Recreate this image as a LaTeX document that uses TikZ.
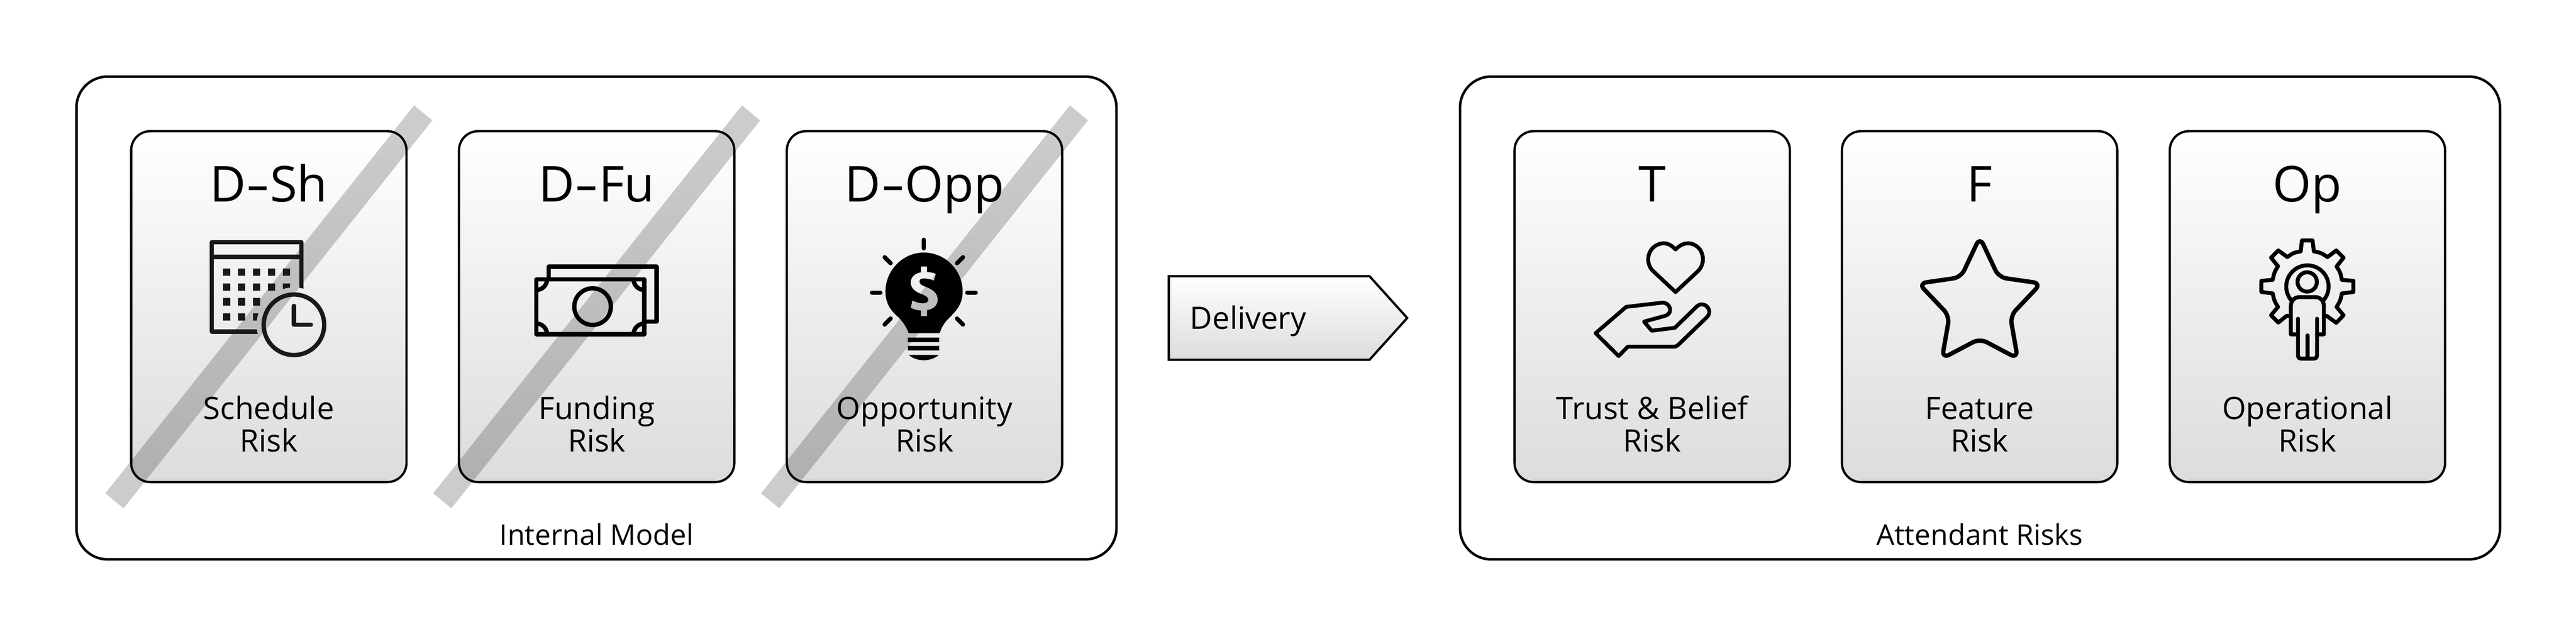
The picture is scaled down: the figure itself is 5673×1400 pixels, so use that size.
\documentclass[tikz,border=0pt]{standalone}
\usepackage{fontspec}
\setmainfont{Open Sans}
\definecolor{cardgray}{HTML}{DCDCDC}
\definecolor{icondark}{HTML}{1A1818}
\newcommand{\widehy}{\scalebox{1.5}[1]{-}}
\tikzset{
  outerbox/.style={draw=black,line width=0.055cm,rounded corners=0.68cm,fill=white,minimum width=22.89cm,minimum height=10.62cm,inner sep=0pt},
  cardbox/.style={draw=black,line width=0.05cm,rounded corners=0.42cm,top color=white,bottom color=cardgray,minimum width=6.06cm,minimum height=7.72cm,inner sep=0pt},
  banstripe/.style={fill=black,fill opacity=0.2},
  titletext/.style={anchor=base,inner sep=0pt,font=\fontsize{31}{35}\selectfont},
  labeltext/.style={anchor=base,inner sep=0pt,align=center,font=\fontsize{19.3}{20.46}\selectfont},
  captiontext/.style={anchor=base,inner sep=0pt,font=\fontsize{17.8}{20}\selectfont},
  iconline/.style={draw=black,line join=round,line cap=round,fill=none},
}
\newcommand{\riskbox}[2]{\node[cardbox] (#1box) at (#2,675) {};}
\newcommand{\riskstripe}[1]{\fill[banstripe,xshift=#1*0.01cm] (912,232) -- (952,265) -- (272,1119) -- (232,1086) -- cycle;}
\newcommand{\risktext}[4]{%
  \node[titletext] (#1title) at (#2,444) {#3};
  \node[labeltext] (#1label) at (#2,995) {#4};}
\begin{document}
\begin{tikzpicture}[x=0.01cm,y=-0.01cm]
\useasboundingbox (0,0) rectangle (5673,1400);
% outer frames
\node[outerbox] (internal) at (1313.5,700) {};
\node[outerbox] (attendant) at (4360.5,700) {};
% cards
\riskbox{sh}{592}
\riskbox{fu}{1314}
\riskbox{opp}{2036}
\riskbox{t}{3638.5}
\riskbox{f}{4359.5}
\riskbox{op}{5081.5}
% stripes
\riskstripe{0}
\riskstripe{722}
\riskstripe{1444}
% text
\risktext{sh}{592}{D\widehy Sh}{Schedule\\Risk}
\risktext{fu}{1314}{D\widehy Fu}{Funding\\Risk}
\risktext{opp}{2036}{D\widehy Opp}{Opportunity\\Risk}
\risktext{t}{3638.5}{T}{Trust \& Belief\\Risk}
\risktext{f}{4359.5}{F}{Feature\\Risk}
\risktext{op}{5081.5}{Op}{Operational\\Risk}
\node[captiontext] (internalcap) at (1314,1200) {Internal Model};
\node[captiontext] (attendantcap) at (4360,1200) {Attendant Risks};
% delivery
\shadedraw[draw=black,line width=0.05cm,miter limit=10,top color=white,bottom color=cardgray]
  (2574,608) -- (3016,608) -- (3099,700) -- (3016,792) -- (2574,792) -- cycle;
\node[anchor=base west,inner sep=0pt,font=\fontsize{19.3}{22}\selectfont] (delivery) at (2620,725) {Delivery};
% calendar + clock
\begin{scope}[shift={(450,500)},scale=0.33333]
  \begin{scope}[even odd rule]
    \clip (-50,-50) rectangle (950,950) (592,645) circle (247);
    \draw[draw=icondark,line width=0.095cm,line join=round] (50,99) rectangle (642,690);
    \draw[draw=icondark,line width=0.095cm] (50,197) -- (642,197);
    \foreach \cx in {123,222,320,419,519}
      \foreach \cy in {273,371,469,568}
        \fill[icondark] (\cx,\cy) rectangle ++(49,49);
  \end{scope}
  \draw[icondark,line width=0.095cm] (592,645) circle (200);
  \draw[draw=icondark,line width=0.095cm,line cap=round,line join=round] (592,520) -- (592,645) -- (704,645);
\end{scope}
% money
\begin{scope}[shift={(1150,550)},scale=0.33333]
  \begin{scope}[iconline,line width=0.095cm,line cap=butt]
    \draw (176,195) -- (176,111) -- (888,111) -- (888,473) -- (806,473);
    \draw (94,195) rectangle (806,557);
    \draw (94,265) arc[start angle=90,end angle=0,radius=70];
    \draw (736,195) arc[start angle=180,end angle=90,radius=70];
    \draw (94,487) arc[start angle=270,end angle=360,radius=70];
    \draw (806,487) arc[start angle=270,end angle=180,radius=70];
    \draw (465,375) circle (121);
  \end{scope}
\end{scope}
% light bulb
\begin{scope}[shift={(1890,510)},scale=0.33333]
  \fill[black,even odd rule]
    (333,670) .. controls (315,620) and (290,590) .. (265,565)
    .. controls (220,525) and (180,480) .. (180,395)
    .. controls (180,255) and (295,138) .. (433,138)
    .. controls (575,138) and (690,255) .. (690,395)
    .. controls (690,480) and (645,525) .. (605,565)
    .. controls (575,595) and (555,620) .. (538,670) -- cycle
    (415,230) -- (455,230) -- (455,266)
    .. controls (480,268) and (498,272) .. (513,279) -- (500,323)
    .. controls (480,315) and (455,309) .. (432,309)
    .. controls (412,309) and (405,318) .. (405,330)
    .. controls (405,345) and (420,355) .. (450,366)
    .. controls (500,385) and (525,410) .. (525,450)
    .. controls (525,485) and (498,512) .. (455,518) -- (455,558) -- (415,558) -- (415,521)
    .. controls (390,520) and (365,513) .. (346,502) -- (359,455)
    .. controls (380,465) and (405,473) .. (428,473)
    .. controls (450,473) and (463,463) .. (463,449)
    .. controls (463,435) and (450,425) .. (425,415)
    .. controls (375,397) and (347,375) .. (347,335)
    .. controls (347,300) and (373,275) .. (415,268) -- cycle;
  \fill[black] (328,701) rectangle (536,731);
  \fill[black] (328,755) rectangle (536,785);
  \fill[black] (334,814) .. controls (360,838) and (400,849) .. (433,849)
    .. controls (466,849) and (506,838) .. (532,814) -- cycle;
  \begin{scope}[iconline,line width=0.095cm]
    \draw (433,54) -- (433,110);
    \draw (91,403) -- (146,403);
    \draw (721,403) -- (776,403);
    \draw (175,169) -- (214,208);
    \draw (692,169) -- (653,208);
    \draw (214,574) -- (175,613);
    \draw (653,574) -- (692,613);
  \end{scope}
\end{scope}
% heart + hand
\begin{scope}[shift={(3300,250)},xscale=0.4785,yscale=0.542]
  \begin{scope}[iconline,line width=0.085cm]
  \draw (815,725) -- (712,640) .. controls (697,628) and (689,610) .. (689,592)
    .. controls (689,555) and (722,527) .. (762,527)
    .. controls (782,527) and (800,538) .. (815,552)
    .. controls (830,538) and (850,527) .. (872,527)
    .. controls (910,527) and (941,555) .. (941,592)
    .. controls (941,610) and (932,628) .. (918,640) -- cycle;
  \draw (447,892) -- (588,785) -- (755,768)
    .. controls (775,768) and (790,782) .. (790,798)
    .. controls (790,810) and (778,820) .. (765,822)
    -- (670,845) -- (705,882) -- (812,870) -- (905,790)
    .. controls (915,780) and (925,775) .. (935,775)
    .. controls (955,775) and (970,790) .. (970,805)
    .. controls (970,815) and (965,822) .. (958,828)
    -- (830,937) .. controls (822,944) and (815,947) .. (805,947)
    -- (595,947) -- (553,985) -- cycle;
  \end{scope}
\end{scope}
% star
\begin{scope}[shift={(4050,250)},xscale=0.4785,yscale=0.542]
  \draw[iconline,line width=0.095cm,rounded corners=0.17cm]
    (648,502) -- (735,665) -- (930,690) -- (788,822) -- (822,995)
    -- (648,914) -- (474,995) -- (508,822) -- (366,690) -- (561,665) -- cycle;
\end{scope}
% gear + person
\begin{scope}[shift={(4960,510)},scale=0.33333]
  \begin{scope}[iconline,line width=0.087cm]
  \draw (238,558) -- (228,555) -- (172,600) -- (124,552) -- (170,497)
    .. controls (145,455) .. (135,408) -- (60,398) -- (60,325) -- (135,318)
    .. controls (145,270) .. (170,228) -- (124,172) -- (172,124) -- (232,168)
    .. controls (270,140) .. (320,130) -- (328,58) -- (398,58) -- (407,130)
    .. controls (455,140) .. (497,168) -- (555,124) -- (603,172) -- (557,230)
    .. controls (582,270) .. (592,318) -- (668,325) -- (668,398) -- (592,408)
    .. controls (582,455) .. (557,497) -- (603,552) -- (555,602) -- (497,560) -- (488,555);
  \draw (262,458) arc[start angle=137,end angle=403,radius=140];
  \draw (363,332) circle (64);
  \draw (302,678) -- (255,678) -- (255,492) .. controls (255,455) and (280,432) .. (312,432)
    -- (416,432) .. controls (448,432) and (473,455) .. (473,492) -- (473,678) -- (428,678);
  \draw (302,575) -- (302,815) .. controls (302,830) and (310,838) .. (322,838)
    -- (408,838) .. controls (420,838) and (428,830) .. (428,815) -- (428,575);
  \draw (365,685) -- (365,838);
  \end{scope}
\end{scope}
\end{tikzpicture}
\end{document}
